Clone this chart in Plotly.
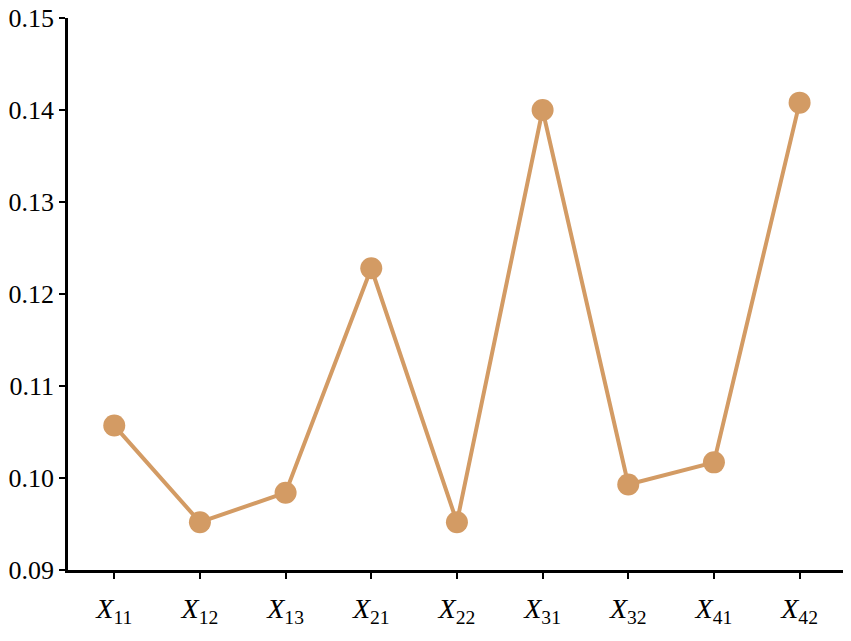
import plotly.graph_objects as go

categories = ["X11", "X12", "X13", "X21", "X22", "X31", "X32", "X41", "X42"]
values = [0.1057, 0.0952, 0.0984, 0.1228, 0.0952, 0.1400, 0.0993, 0.1017, 0.1408]
tick_labels = ["<i>X</i><sub>11</sub>", "<i>X</i><sub>12</sub>", "<i>X</i><sub>13</sub>",
               "<i>X</i><sub>21</sub>", "<i>X</i><sub>22</sub>", "<i>X</i><sub>31</sub>",
               "<i>X</i><sub>32</sub>", "<i>X</i><sub>41</sub>", "<i>X</i><sub>42</sub>"]
y_ticks = [0.09, 0.10, 0.11, 0.12, 0.13, 0.14, 0.15]
y_tick_text = ["0.09", "0.10", "0.11", "0.12", "0.13", "0.14", "0.15"]

color = "#D39B64"
x_idx = list(range(len(categories)))

fig = go.Figure(go.Scatter(
    x=x_idx, y=values, mode="lines+markers",
    line=dict(color=color, width=4),
    marker=dict(color=color, size=22),
    hoverinfo="skip",
))

serif = "Liberation Serif"

fig.update_layout(
    width=843, height=633,
    margin=dict(l=60, r=6, t=10, b=71),
    plot_bgcolor="white", paper_bgcolor="white",
    showlegend=False,
    font=dict(family=serif, size=26, color="black"),
)
fig.update_xaxes(
    range=[-0.54, 8.53], tickmode="array", tickvals=x_idx, ticktext=tick_labels,
    showline=True, linecolor="black", linewidth=2.5, ticks="outside", ticklen=6,
    tickwidth=2, tickcolor="black", showgrid=False, zeroline=False, automargin=False,
    ticklabeloverflow="allow", ticklabelstandoff=6,
    tickfont=dict(family=serif, size=28, color="black"),
)
fig.update_yaxes(
    range=[0.09, 0.15], tickmode="array", tickvals=y_ticks, ticktext=y_tick_text,
    showline=True, linecolor="black", linewidth=2.5, ticks="outside", ticklen=6,
    tickwidth=2, tickcolor="black", showgrid=False, zeroline=False, automargin=False,
    ticklabeloverflow="allow",
    tickfont=dict(family=serif, size=26, color="black"),
)

fig.write_html("out.html")
